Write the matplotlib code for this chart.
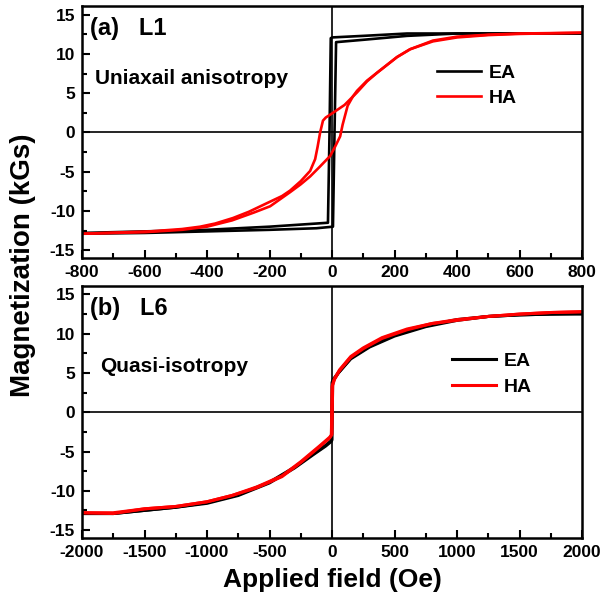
import numpy as np
import matplotlib.pyplot as plt
from matplotlib.ticker import MultipleLocator

plt.rcParams['font.family'] = ['Liberation Sans', 'DejaVu Sans']
plt.rcParams['font.weight'] = 'bold'
plt.rcParams['axes.unicode_minus'] = False

# (a) L1 - easy axis loop (two branches)
l1_ea_down_h = [800, 600, 400, 240, 100, 0, -4, -8, -13, -50, -200, -400, -600, -800]
l1_ea_down_m = [12.6, 12.6, 12.6, 12.6, 12.3, 12.1, 12.0, 0.0, -11.5, -11.6, -12.0, -12.4, -12.6, -12.8]
l1_ea_up_h = [-800, -600, -400, -200, -50, 3, 8, 13, 100, 240, 400, 600, 800]
l1_ea_up_m = [-12.9, -12.8, -12.6, -12.4, -12.2, -12.0, 0.0, 11.5, 11.8, 12.3, 12.6, 12.6, 12.6]

# (a) L1 - hard axis loop
l1_ha_down_h = [800, 600, 500, 400, 323, 250, 208, 144, 112, 80, 40, 3, -20, -29, -38, -46, -54,
                -70, -100, -134, -160, -208, -266, -317, -374, -422, -480, -582, -800]
l1_ha_down_m = [12.7, 12.55, 12.4, 12.1, 11.6, 10.6, 9.6, 7.6, 6.5, 5.1, 3.5, 2.5, 1.9, 1.5, 0.0, -1.8, -3.4,
                -4.9, -6.2, -7.4, -8.1, -9.0, -10.1, -10.9, -11.6, -12.0, -12.3, -12.6, -12.9]
l1_ha_up_h = [-800, -600, -480, -400, -320, -250, -198, -134, -100, -70, -40, -6, 10, 26, 34, 42, 50,
              67, 80, 112, 144, 208, 250, 323, 400, 500, 600, 800]
l1_ha_up_m = [-12.9, -12.7, -12.4, -12.0, -11.2, -10.2, -9.4, -7.6, -6.6, -5.6, -4.4, -3.0, -1.8, -0.5, 1.0, 2.2, 3.4,
              4.6, 5.3, 6.6, 7.6, 9.6, 10.6, 11.7, 12.2, 12.45, 12.6, 12.7]

# (b) L6 - easy axis
l6_ea_down_h = [2000, 1750, 1500, 1250, 1000, 750, 500, 300, 150, 50, 10, 0, -5, -50, -150, -300,
                -500, -750, -1000, -1250, -1500, -1750, -2000]
l6_ea_down_m = [12.5, 12.5, 12.4, 12.2, 11.8, 11.0, 9.8, 8.4, 6.9, 5.0, 4.2, 3.8, -3.6, -4.2, -5.3, -7.0,
                -8.9, -10.5, -11.5, -12.1, -12.5, -12.9, -12.9]
l6_ea_up_h = [-2000, -1750, -1500, -1250, -1000, -750, -500, -300, -150, -50, -5, 0, 5, 50, 150, 300,
              500, 750, 1000, 1250, 1500, 1750, 2000]
l6_ea_up_m = [-12.9, -12.9, -12.5, -12.1, -11.6, -10.6, -9.0, -7.1, -5.4, -4.3, -3.7, -3.5, 3.9, 5.0, 6.8, 8.3,
              9.7, 10.9, 11.7, 12.2, 12.4, 12.5, 12.6]

# (b) L6 - hard axis
l6_ha_down_h = [2000, 1750, 1500, 1250, 1000, 800, 600, 400, 250, 150, 60, 20, 5, 0, -20, -100,
                -250, -400, -600, -800, -1000, -1250, -1500, -1750, -2000]
l6_ha_down_m = [12.8, 12.7, 12.5, 12.2, 11.8, 11.3, 10.5, 9.4, 8.1, 7.0, 5.3, 4.2, 3.4, -2.8, -3.3, -4.4,
                -6.4, -8.2, -9.6, -10.6, -11.4, -12.0, -12.3, -12.8, -12.8]
l6_ha_up_h = [-2000, -1750, -1500, -1250, -1000, -800, -600, -400, -250, -100, -20, -5, 0, 20, 60, 150,
              250, 400, 600, 800, 1000, 1250, 1500, 1750, 2000]
l6_ha_up_m = [-12.8, -12.9, -12.3, -12.0, -11.4, -10.6, -9.5, -8.1, -6.3, -4.3, -3.2, -2.9, 3.3, 4.3, 5.4, 7.1,
              8.2, 9.5, 10.6, 11.3, 11.7, 12.2, 12.5, 12.7, 12.8]

fig = plt.figure(figsize=(6.04, 6.03), dpi=100)
ax1 = fig.add_axes([0.1358, 0.572, 0.8278, 0.418])
ax2 = fig.add_axes([0.1358, 0.108, 0.8278, 0.418])

ax1.plot(l1_ea_down_h, l1_ea_down_m, color='black', lw=1.9, label='EA')
ax1.plot(l1_ea_up_h, l1_ea_up_m, color='black', lw=1.9)
ax1.plot(l1_ha_down_h, l1_ha_down_m, color='red', lw=1.9, label='HA')
ax1.plot(l1_ha_up_h, l1_ha_up_m, color='red', lw=1.9)

ax2.plot(l6_ea_down_h, l6_ea_down_m, color='black', lw=2.2, label='EA')
ax2.plot(l6_ea_up_h, l6_ea_up_m, color='black', lw=2.2)
ax2.plot(l6_ha_down_h, l6_ha_down_m, color='red', lw=2.2, label='HA')
ax2.plot(l6_ha_up_h, l6_ha_up_m, color='red', lw=2.2)

for ax, lim, major in [(ax1, 800, 200), (ax2, 2000, 500)]:
    ax.axhline(0, color='black', lw=1.2, zorder=0)
    ax.axvline(0, color='black', lw=1.2, zorder=0)
    ax.set_xlim(-lim, lim)
    ax.set_ylim(-16, 16.1)
    ax.xaxis.set_major_locator(MultipleLocator(major))
    ax.xaxis.set_minor_locator(MultipleLocator(major / 2))
    ax.yaxis.set_major_locator(MultipleLocator(5))
    ax.yaxis.set_minor_locator(MultipleLocator(2.5))
    ax.tick_params(which='both', direction='in', width=1.5, labelsize=12.5, pad=5)
    ax.tick_params(which='major', length=6)
    ax.tick_params(which='minor', length=3.5)
    for s in ax.spines.values():
        s.set_linewidth(1.8)
    for lab in ax.get_xticklabels() + ax.get_yticklabels():
        lab.set_fontweight('bold')

ax1.text(0.016, 0.955, '(a)   L1', transform=ax1.transAxes, fontsize=17, fontweight='bold', va='top')
ax1.text(0.026, 0.69, 'Uniaxail anisotropy', transform=ax1.transAxes, fontsize=15, fontweight='bold')
ax2.text(0.016, 0.955, '(b)   L6', transform=ax2.transAxes, fontsize=17, fontweight='bold', va='top')
ax2.text(0.036, 0.66, 'Quasi-isotropy', transform=ax2.transAxes, fontsize=15, fontweight='bold')

ax1.legend(loc='center left', bbox_to_anchor=(0.69, 0.685), frameon=False, fontsize=14,
           handlelength=2.3, handletextpad=0.4, labelspacing=0.4, borderpad=0)
ax2.legend(loc='center left', bbox_to_anchor=(0.72, 0.65), frameon=False, fontsize=14,
           handlelength=2.3, handletextpad=0.4, labelspacing=0.4, borderpad=0)

fig.text(0.038, 0.56, 'Magnetization (kGs)', rotation=90, ha='center', va='center',
         fontsize=20, fontweight='bold')
fig.text(0.55, 0.038, 'Applied field (Oe)', ha='center', va='center', fontsize=19, fontweight='bold')

fig.savefig('out.png', dpi=100)
